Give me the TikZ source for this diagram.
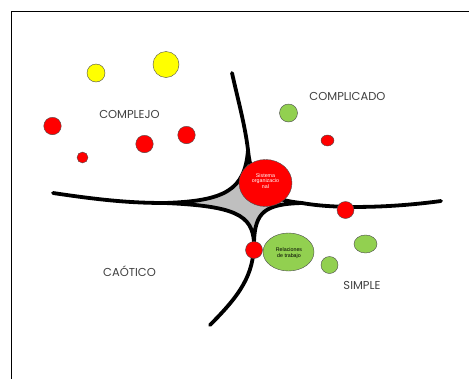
\documentclass[tikz,border=0pt]{standalone}
\usepackage{fontspec}
\usetikzlibrary{shapes.geometric}
\setmainfont{Poppins}
\newfontfamily\smallfont{Liberation Sans}
\definecolor{myred}{HTML}{FF0000}
\definecolor{mygreen}{HTML}{92D050}
\definecolor{myyellow}{HTML}{FFFF00}
\definecolor{mygray}{HTML}{BFBFBF}
\definecolor{labelgray}{HTML}{404040}
\begin{document}
\begin{tikzpicture}[x=1pt,y=-1pt,
  blob/.style={draw=black!70, line width=0.4pt, inner sep=0pt, minimum size=#1, circle},
  oval/.style={draw=black!70, line width=0.4pt, inner sep=0pt, ellipse},
  redb/.style={blob=#1, fill=myred},
  greenb/.style={blob=#1, fill=mygreen},
  yellowb/.style={blob=#1, fill=myyellow},
  regionlabel/.style={font=\fontsize{11.5}{13}\selectfont, text=labelgray},
  arm/.style={line width=3.8pt, line cap=round, line join=round},
  tiny/.style={font=\smallfont\fontsize{5.3}{7}\selectfont, align=center}
]
\useasboundingbox (0,0) rectangle (469,378);
\fill[white] (0,0) rectangle (469,378);
% frame
\draw[line width=1.8pt] (11.5,380) -- (11.5,11.5) -- (472,11.5);

% gray core
\coordinate (L) at (165,203);
\coordinate (T) at (248,150);
\coordinate (R) at (302,203);
\coordinate (B) at (254,242);
\fill[mygray] (L) .. controls (225,201) and (245,190) .. (T)
  .. controls (252,190) and (270,200) .. (R)
  .. controls (265,204) and (255,212) .. (B)
  .. controls (252,215) and (235,206) .. (L) -- cycle;
\draw[arm] (L) .. controls (225,201) and (245,190) .. (T)
  .. controls (252,190) and (270,200) .. (R)
  .. controls (265,204) and (255,212) .. (B)
  .. controls (252,215) and (235,206) .. (L);
% arms
\coordinate (LA) at (53,193);
\coordinate (TA) at (232,73);
\coordinate (RA) at (441,201);
\coordinate (BA) at (210,325);
\draw[arm] (LA) .. controls (100,200) and (130,203) .. (L);
\draw[arm] (TA) .. controls (238,100) and (245,125) .. (T);
\draw[arm] (R) .. controls (335,209) and (390,208) .. (RA);
\draw[arm] (B) .. controls (254,275) and (240,295) .. (BA);

% central ellipse
\node[oval, fill=myred, minimum width=53, minimum height=47] (sys) at (265.5,183) {};
\node[tiny, text=white] (systxt) at (265.5,181) {Sistema\\[-1.6pt]organizacio\\[-1.6pt]nal};

% red nodes on arms
\node[redb=17] (rb) at (254,250) {};
\node[redb=17] (rr) at (345.5,210) {};

% green nodes
\node[oval, fill=mygreen, minimum width=51, minimum height=38] (rel) at (288.5,252) {};
\node[tiny, text=black] (reltxt) at (289,253) {Relaciones\\[-1.6pt]de trabajo};
\node[oval, fill=mygreen, minimum width=23, minimum height=18] (g1) at (365.5,244) {};
\node[greenb=17] (g2) at (329.5,265) {};
\node[greenb=18] (g3) at (288.5,113) {};

% complicated red
\node[oval, fill=myred, minimum width=13, minimum height=11] (r0) at (327.5,140.5) {};

% complex
\node[yellowb=18] (y1) at (96,73) {};
\node[yellowb=26] (y2) at (166,64.5) {};
\node[redb=17.5] (r1) at (52.5,126) {};
\node[redb=11] (r2) at (82.5,157.5) {};
\node[redb=17.5] (r3) at (144.5,144) {};
\node[redb=17.5] (r4) at (186.5,135) {};

% labels
\node[regionlabel] (complejo) at (129.5,114.5) {COMPLEJO};
\node[regionlabel] (complicado) at (347.5,96) {COMPLICADO};
\node[regionlabel] (caotico) at (129.5,271.5) {CAÓTICO};
\node[regionlabel] (simple) at (362,285) {SIMPLE};
\end{tikzpicture}
\end{document}
